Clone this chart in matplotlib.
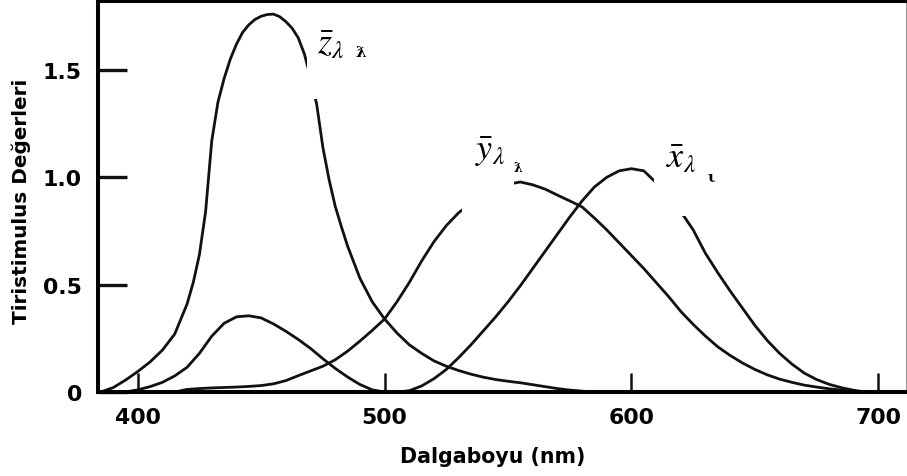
import matplotlib
matplotlib.use('Agg')
import matplotlib.pyplot as plt
from matplotlib.patches import Rectangle

plt.rcParams['font.family'] = ['DejaVu Sans']
plt.rcParams['mathtext.fontset'] = 'stix'

# colour matching curves (wavelength in nm, value)
z_nm = [385, 390, 395, 400, 405, 410, 415, 420, 422.5, 425, 427.5, 430, 432.5, 435, 437.5,
        440, 442.5, 445, 447.5, 450, 452.5, 455, 457.5, 460, 462.5, 465, 467.5, 470, 472.5,
        475, 477.5, 480, 482.5, 485, 490, 495, 500, 505, 510, 515, 520, 525, 530,
        535, 540, 545, 550, 555, 560, 565, 570, 575, 580, 585]
z_val = [0.0, 0.02, 0.055, 0.095, 0.14, 0.195, 0.27, 0.41, 0.51, 0.64, 0.84, 1.17, 1.35, 1.46, 1.55,
         1.62, 1.675, 1.71, 1.735, 1.75, 1.758, 1.76, 1.748, 1.725, 1.695, 1.65, 1.575, 1.465, 1.34,
         1.14, 0.99, 0.865, 0.77, 0.68, 0.53, 0.42, 0.34, 0.275, 0.22, 0.18, 0.145, 0.12, 0.10,
         0.083, 0.069, 0.058, 0.05, 0.043, 0.034, 0.025, 0.016, 0.009, 0.004, 0.0]

x_nm = [395, 400, 405, 410, 415, 420, 425, 430, 435, 440, 445, 450, 455, 460, 465,
        470, 475, 480, 485, 490, 495, 500, 505, 510, 515, 520, 525, 530, 535, 540,
        545, 550, 555, 560, 565, 570, 575, 580, 585, 590, 595, 600, 605, 610, 615,
        620, 625, 630, 635, 640, 645, 650, 655, 660, 665, 670, 675, 680, 685, 690, 695]
x_val = [0.0, 0.01, 0.025, 0.045, 0.075, 0.115, 0.18, 0.26, 0.32, 0.35, 0.355, 0.345, 0.317, 0.283, 0.245,
         0.203, 0.155, 0.11, 0.07, 0.035, 0.01, 0.0, 0.0, 0.006, 0.028, 0.062, 0.105, 0.16, 0.22, 0.285,
         0.35, 0.42, 0.495, 0.575, 0.655, 0.735, 0.815, 0.89, 0.955, 1.0, 1.03, 1.04, 1.03, 0.975, 0.91,
         0.84, 0.755, 0.645, 0.555, 0.47, 0.39, 0.31, 0.24, 0.18, 0.13, 0.088, 0.058, 0.036, 0.02, 0.008, 0.0]

y_nm = [415, 420, 425, 430, 435, 440, 445, 450, 455, 460, 465, 470, 475, 480, 485,
        490, 495, 500, 505, 510, 515, 520, 525, 530, 535, 540, 545, 550, 555, 560,
        565, 570, 575, 580, 585, 590, 595, 600, 605, 610, 615, 620, 625, 630, 635,
        640, 645, 650, 655, 660, 665, 670, 675, 680, 685, 690, 695]
y_val = [0.0, 0.012, 0.016, 0.019, 0.021, 0.023, 0.026, 0.03, 0.038, 0.053, 0.076, 0.098, 0.12, 0.15, 0.19,
         0.237, 0.287, 0.34, 0.42, 0.51, 0.61, 0.70, 0.775, 0.835, 0.878, 0.912, 0.945, 0.968, 0.978, 0.965,
         0.945, 0.917, 0.89, 0.862, 0.81, 0.755, 0.695, 0.635, 0.575, 0.51, 0.445, 0.375, 0.315, 0.26, 0.21,
         0.17, 0.135, 0.105, 0.08, 0.06, 0.045, 0.032, 0.023, 0.015, 0.009, 0.004, 0.0]

x_ticks = [400, 500, 600, 700]
y_ticks = [0, 0.5, 1.0, 1.5]
y_ticklabels = ['0', '0.5', '1.0', '1.5']

fig = plt.figure(figsize=(9.07, 4.77), dpi=100)
ax = fig.add_axes([0.108, 0.1761, 0.8909, 0.8197])

for nm, val in [(z_nm, z_val), (x_nm, x_val), (y_nm, y_val)]:
    ax.plot(nm, val, color='#111111', lw=2.0, zorder=2, solid_capstyle='butt', solid_joinstyle='round')

# white boxes behind the curve labels (they cut the curves like in the original)
ax.add_patch(Rectangle((468.5, 1.365), 32, 0.41, facecolor='white', edgecolor='none', zorder=3))
ax.add_patch(Rectangle((531.3, 0.80), 21.1, 0.40, facecolor='white', edgecolor='none', zorder=3))
ax.add_patch(Rectangle((609.0, 0.821), 31, 0.38, facecolor='white', edgecolor='none', zorder=3))

ax.text(472.6, 1.584, r'$\bar{z}_{\lambda}$', fontsize=26, ha='left', va='baseline', zorder=4)
ax.text(488.4, 1.565, 'ƛ', fontsize=11, family='DejaVu Serif', fontweight='bold', ha='left', va='baseline', zorder=4)
ax.text(536.5, 1.085, r'$\bar{y}_{\lambda}$', fontsize=26, ha='left', va='baseline', zorder=4)
ax.text(552.4, 1.029, 'ƛ', fontsize=9, family='DejaVu Serif', fontweight='bold', ha='left', va='baseline', zorder=4)
ax.text(613.9, 1.053, r'$\bar{x}_{\lambda}$', fontsize=26, ha='left', va='baseline', zorder=4)
ax.text(630.9, 0.983, 'ι', fontsize=11, family='DejaVu Serif', fontweight='bold', ha='left', va='baseline', zorder=4)

ax.set_xlim(383.9, 711.2)
ax.set_ylim(0, 1.821)
ax.set_xticks(x_ticks)
ax.set_yticks(y_ticks)
ax.set_yticklabels(y_ticklabels)

ax.tick_params(axis='y', direction='in', length=21, width=2.4, pad=11.5, labelsize=15.8, color='#111111')
ax.tick_params(axis='x', direction='in', length=13.5, width=1.8, pad=11, labelsize=15.8, color='#111111')
for label in (ax.get_xticklabels() + ax.get_yticklabels()):
    label.set_fontweight('bold')

for side in ['top', 'left', 'bottom']:
    ax.spines[side].set_linewidth(2.9)
    ax.spines[side].set_color('black')
    ax.spines[side].set_zorder(5)
ax.spines['right'].set_linewidth(0.8)
ax.spines['right'].set_color('#999999')

ax.set_xlabel('Dalgaboyu (nm)', fontsize=14.8, fontweight='bold')
ax.set_ylabel('Tiristimulus Değerleri', fontsize=14.4, fontweight='bold')
ax.xaxis.label.set_va('center')
ax.xaxis.set_label_coords(0.488, (393 - 457) / 391)
ax.yaxis.label.set_va('center')
ax.yaxis.set_label_coords((21 - 98) / 808, (393 - 201) / 391)

fig.savefig('out.png', dpi=100)
